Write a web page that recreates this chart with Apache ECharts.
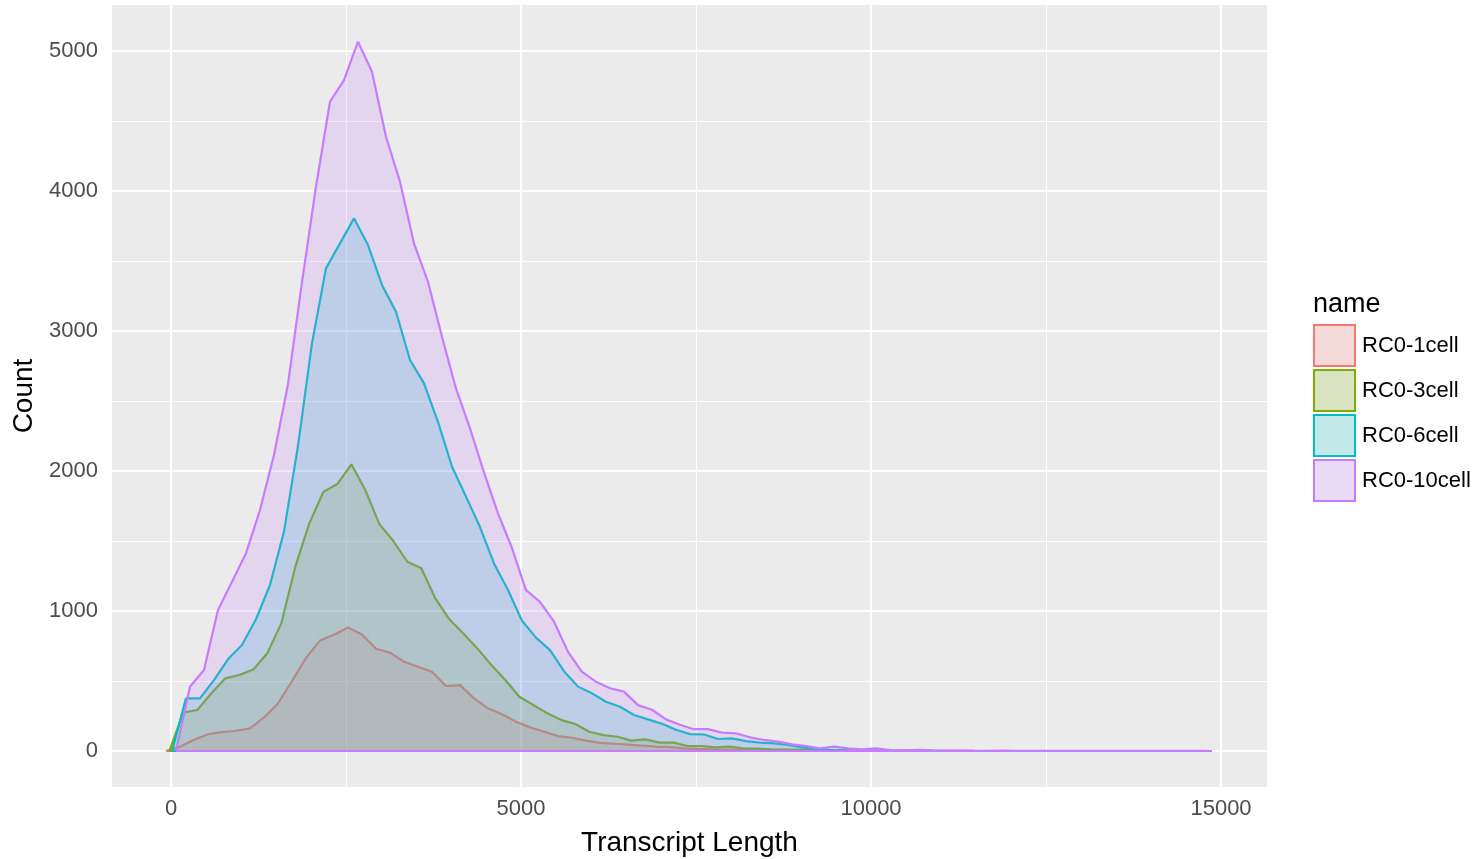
<!DOCTYPE html>
<html>
<head>
<meta charset="utf-8">
<script src="https://cdn.jsdelivr.net/npm/echarts@6/dist/echarts.min.js"></script>
<style>
  html, body { margin: 0; padding: 0; background: #ffffff; }
  #chart { width: 1478px; height: 859px; }
</style>
</head>
<body>
<div id="chart"></div>
<script>
// ---------------- DATA ----------------
const seriesNames = ['RC0-1cell', 'RC0-3cell', 'RC0-6cell', 'RC0-10cell'];

// bin width (transcript length units) and first-bin position for each sample
const binWidth = 200;
const binStart1 = -71;
const binStart3 = -24;
const binStart6 = 14;
const binStart10 = 71;

const counts1 = [0, 30, 80, 120, 135, 145, 162, 240, 340, 500, 665, 790, 830, 883, 833, 730, 703, 638, 602, 566,
  464, 471, 376, 305, 262, 209, 169, 138, 107, 95, 74, 58, 52, 45, 38, 32, 28, 19, 15, 12,
  10, 8, 7, 6, 5, 4, 3, 3, 2, 2, 1, 1, 1, 0];

const counts3 = [0, 274, 293, 412, 519, 543, 583, 698, 912, 1317, 1626, 1850, 1907, 2048, 1864, 1621, 1500, 1352, 1305, 1090,
  941, 840, 733, 615, 507, 388, 329, 269, 221, 193, 138, 114, 102, 74, 83, 60, 60, 36, 36, 26,
  31, 19, 17, 12, 10, 8, 6, 5, 4, 3, 3, 2, 2, 1, 1, 0];

const counts6 = [0, 376, 376, 507, 655, 757, 941, 1186, 1567, 2180, 2912, 3448, 3626, 3805, 3614, 3329, 3138, 2793, 2626, 2352,
  2031, 1817, 1600, 1340, 1150, 930, 810, 721, 570, 460, 412, 352, 316, 257, 226, 195, 152, 121, 118, 86,
  90, 71, 60, 55, 43, 26, 14, 9, 6, 4, 3, 3, 2, 2, 1, 1, 0];

const counts10 = [0, 459, 579, 1007, 1209, 1412, 1721, 2114, 2620, 3350, 4031, 4638, 4793, 5067, 4852, 4388, 4067, 3626, 3352, 2959,
  2590, 2305, 1990, 1698, 1450, 1150, 1066, 924, 709, 566, 495, 448, 424, 328, 295, 226, 188, 156, 156, 131,
  126, 98, 79, 67, 48, 36, 19, 31, 19, 12, 19, 7, 5, 8, 4, 3, 5, 3, 2, 3,
  2, 2, 1, 2, 1, 1, 2, 1, 1, 1, 2, 1, 1, 1, 0];

const xTicks = [0, 5000, 10000, 15000];
const xMinorTicks = [2500, 7500, 12500];
const yTicks = [0, 1000, 2000, 3000, 4000, 5000];
const yMinorTicks = [500, 1500, 2500, 3500, 4500];

// ---------------- STYLE ----------------
const colors = ['#F8766D', '#7CAE00', '#00BFC4', '#C77CFF'];
const fills = ['rgba(248,118,109,0.2)', 'rgba(124,174,0,0.2)', 'rgba(0,191,196,0.2)', 'rgba(199,124,255,0.2)'];
const keyFills = ['rgb(243,217,215)', 'rgb(218,228,194)', 'rgb(194,232,233)', 'rgb(233,218,245)'];
const FONT = '"Liberation Sans", Arial, Helvetica, sans-serif';

const groups = [
  { start: binStart1, counts: counts1 },
  { start: binStart3, counts: counts3 },
  { start: binStart6, counts: counts6 },
  { start: binStart10, counts: counts10 }
];

function toPoints(start, counts) {
  return counts.map((c, i) => [start + i * binWidth, c]);
}

const series = [];

// grid lines (drawn under the data)
const gridLines = [];
xTicks.forEach(v => gridLines.push({ xAxis: v, lineStyle: { width: 2.2 } }));
xMinorTicks.forEach(v => gridLines.push({ xAxis: v, lineStyle: { width: 1 } }));
yTicks.forEach(v => gridLines.push({ yAxis: v, lineStyle: { width: 2.2 } }));
yMinorTicks.forEach(v => gridLines.push({ yAxis: v, lineStyle: { width: 1 } }));

series.push({
  name: '__grid',
  type: 'line',
  data: [],
  z: 1,
  silent: true,
  markLine: {
    z: 1,
    silent: true,
    symbol: 'none',
    animation: false,
    label: { show: false },
    lineStyle: { color: '#ffffff', type: 'solid', opacity: 1 },
    emphasis: { disabled: true },
    data: gridLines
  }
});

groups.forEach((g, i) => {
  const pts = toPoints(g.start, g.counts);
  series.push({
    name: seriesNames[i],
    type: 'line',
    data: pts,
    z: 2 + i,
    symbol: 'none',
    showSymbol: false,
    smooth: false,
    lineStyle: { color: colors[i], width: 2.2 },
    itemStyle: { color: colors[i] },
    areaStyle: { color: fills[i], opacity: 1 },
    emphasis: { disabled: true },
    silent: true
  });
  // polygon bottom edge
  series.push({
    name: seriesNames[i] + ' base',
    type: 'line',
    data: [[pts[0][0], 0], [pts[pts.length - 1][0], 0]],
    z: 2 + i,
    symbol: 'none',
    showSymbol: false,
    lineStyle: { color: colors[i], width: 2.2 },
    emphasis: { disabled: true },
    silent: true
  });
});

const plainNum = v => String(v);

const chart = echarts.init(document.getElementById('chart'), null, { renderer: 'canvas' });
chart.setOption({
  animation: false,
  backgroundColor: '#ffffff',
  textStyle: { fontFamily: FONT },
  title: {
    text: 'name',
    left: 1313,
    top: 291,
    padding: 0,
    textStyle: { fontSize: 27, fontWeight: 'normal', color: '#000000', fontFamily: FONT }
  },
  legend: {
    orient: 'vertical',
    left: 1313,
    top: 324,
    padding: 0,
    itemWidth: 41,
    itemHeight: 41,
    itemGap: 2,
    selectedMode: false,
    textStyle: { fontSize: 22, color: '#000000', fontFamily: FONT, padding: [0, 0, 0, 2] },
    data: seriesNames.map((n, i) => ({
      name: n,
      icon: 'rect',
      itemStyle: { color: keyFills[i], borderColor: colors[i], borderWidth: 2 }
    }))
  },
  grid: {
    left: 112,
    right: 211,
    top: 5,
    bottom: 72,
    show: true,
    backgroundColor: '#EBEBEB',
    borderWidth: 0,
    containLabel: false,
    outerBoundsMode: 'none'
  },
  xAxis: {
    type: 'value',
    min: -843,
    max: 15657,
    name: 'Transcript Length',
    nameLocation: 'middle',
    nameGap: 42,
    nameTextStyle: { fontSize: 28, color: '#000000', fontFamily: FONT },
    axisLine: { show: false },
    axisTick: { show: true, length: 5, lineStyle: { color: '#333333', width: 1.5 }, customValues: xTicks },
    axisLabel: { show: true, fontSize: 22, color: '#4D4D4D', margin: 11, fontFamily: FONT, customValues: xTicks, formatter: plainNum },
    splitLine: { show: false },
    minorSplitLine: { show: false }
  },
  yAxis: {
    type: 'value',
    min: -257,
    max: 5329,
    name: 'Count',
    nameLocation: 'middle',
    nameGap: 74,
    nameTextStyle: { fontSize: 28, color: '#000000', fontFamily: FONT },
    axisLine: { show: false },
    axisTick: { show: true, length: 5, lineStyle: { color: '#333333', width: 1.5 }, customValues: yTicks },
    axisLabel: { show: true, fontSize: 22, color: '#4D4D4D', margin: 14, fontFamily: FONT, customValues: yTicks, formatter: plainNum },
    splitLine: { show: false },
    minorSplitLine: { show: false }
  },
  series: series
});
</script>
</body>
</html>
